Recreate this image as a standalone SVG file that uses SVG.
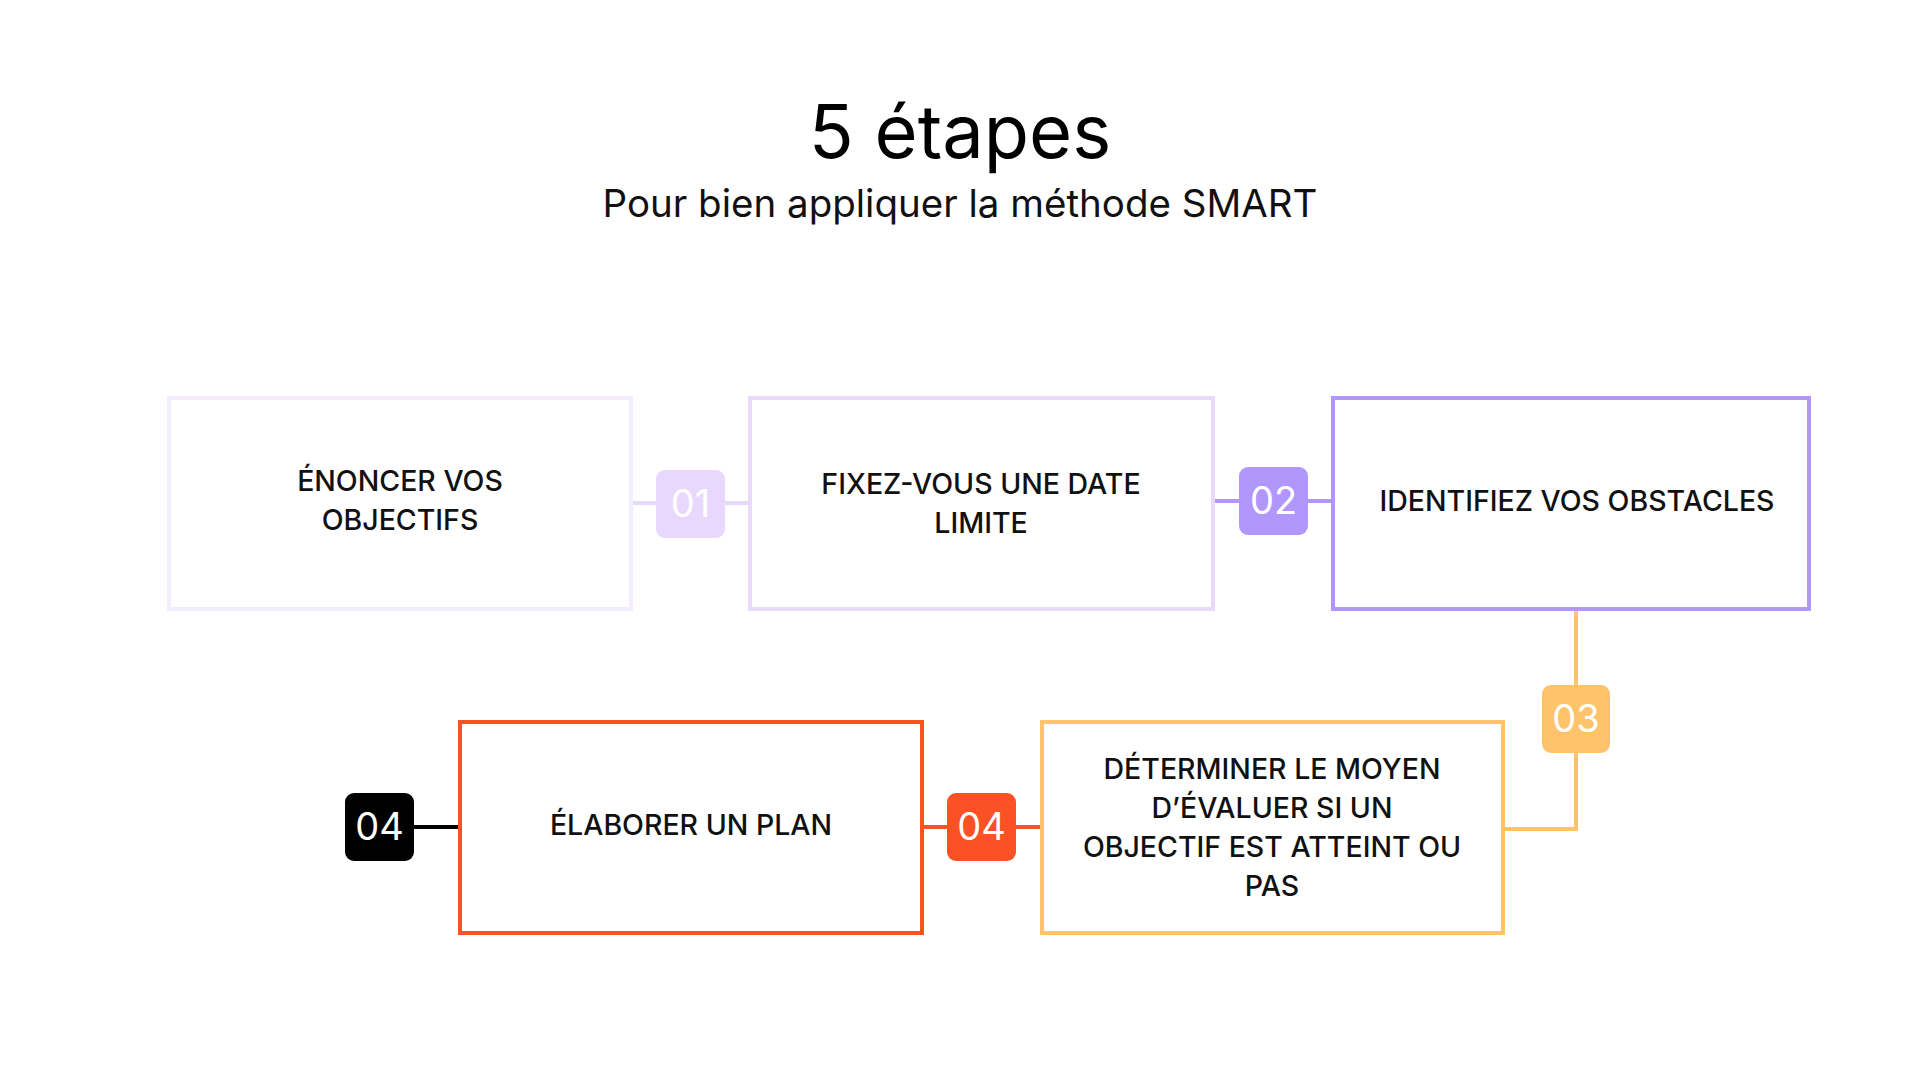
<svg xmlns="http://www.w3.org/2000/svg" width="1920" height="1080" viewBox="0 0 1920 1080">
<style>
.box{fill:#ffffff;stroke-width:4}
.lbl{font-family:Inter,"Liberation Sans",sans-serif;font-size:28.5px;font-weight:500;fill:#111111;text-anchor:middle}
.num{font-family:Inter,"Liberation Sans",sans-serif;font-size:38px;font-weight:400;fill:#ffffff;text-anchor:middle}
.ln{fill:none;stroke-width:4}
</style>
<rect width="1920" height="1080" fill="#ffffff"/>
<text x="960" y="158" font-family="Inter,'Liberation Sans',sans-serif" font-size="74" fill="#000000" text-anchor="middle">5 étapes</text>
<text x="960" y="217" font-family="Inter,'Liberation Sans',sans-serif" font-size="38.5" fill="#111111" text-anchor="middle">Pour bien appliquer la méthode SMART</text>
<g id="connectors">
<line class="ln" x1="632" y1="503" x2="750" y2="503" stroke="#E9D8FD"/>
<line class="ln" x1="1214" y1="501" x2="1332" y2="501" stroke="#B197FC"/>
<polyline class="ln" points="1576,610 1576,829 1504,829" stroke="#FFC46B"/>
<line class="ln" x1="923" y1="827" x2="1041" y2="827" stroke="#FC5124"/>
<line class="ln" x1="414" y1="827" x2="459" y2="827" stroke="#000000"/>
</g>
<g id="node1">
<rect class="box" x="169" y="398" width="462" height="211" stroke="#F3EDFD"/>
<text class="lbl" x="400" y="491">ÉNONCER VOS</text>
<text class="lbl" x="400" y="530">OBJECTIFS</text>
</g>
<g id="node2">
<rect class="box" x="750" y="398" width="463" height="211" stroke="#E9D9FB"/>
<text class="lbl" x="981" y="494">FIXEZ-VOUS UNE DATE</text>
<text class="lbl" x="981" y="533">LIMITE</text>
</g>
<g id="node3">
<rect class="box" x="1333" y="398" width="476" height="211" stroke="#B197FC"/>
<text class="lbl" x="1577" y="511">IDENTIFIEZ VOS OBSTACLES</text>
</g>
<g id="node4">
<rect class="box" x="1042" y="722" width="461" height="211" stroke="#FFC46B"/>
<text class="lbl" x="1272" y="779">DÉTERMINER LE MOYEN</text>
<text class="lbl" x="1272" y="818">D’ÉVALUER SI UN</text>
<text class="lbl" x="1272" y="857">OBJECTIF EST ATTEINT OU</text>
<text class="lbl" x="1272" y="896">PAS</text>
</g>
<g id="node5">
<rect class="box" x="460" y="722" width="462" height="211" stroke="#FC5124"/>
<text class="lbl" x="691" y="835">ÉLABORER UN PLAN</text>
</g>
<g id="badge1">
<rect x="656" y="470" width="69" height="68" rx="9" fill="#E9D8FD"/>
<text class="num" x="690.5" y="517">01</text>
</g>
<g id="badge2">
<rect x="1239" y="467" width="69" height="68" rx="9" fill="#B197FC"/>
<text class="num" x="1273.5" y="514">02</text>
</g>
<g id="badge3">
<rect x="1542" y="685" width="68" height="68" rx="9" fill="#FFC46B"/>
<text class="num" x="1576" y="732">03</text>
</g>
<g id="badge4">
<rect x="947" y="793" width="69" height="68" rx="9" fill="#FC5124"/>
<text class="num" x="981.5" y="840">04</text>
</g>
<g id="badge5">
<rect x="345" y="793" width="69" height="68" rx="9" fill="#000000"/>
<text class="num" x="379.5" y="840">04</text>
</g>
</svg>
